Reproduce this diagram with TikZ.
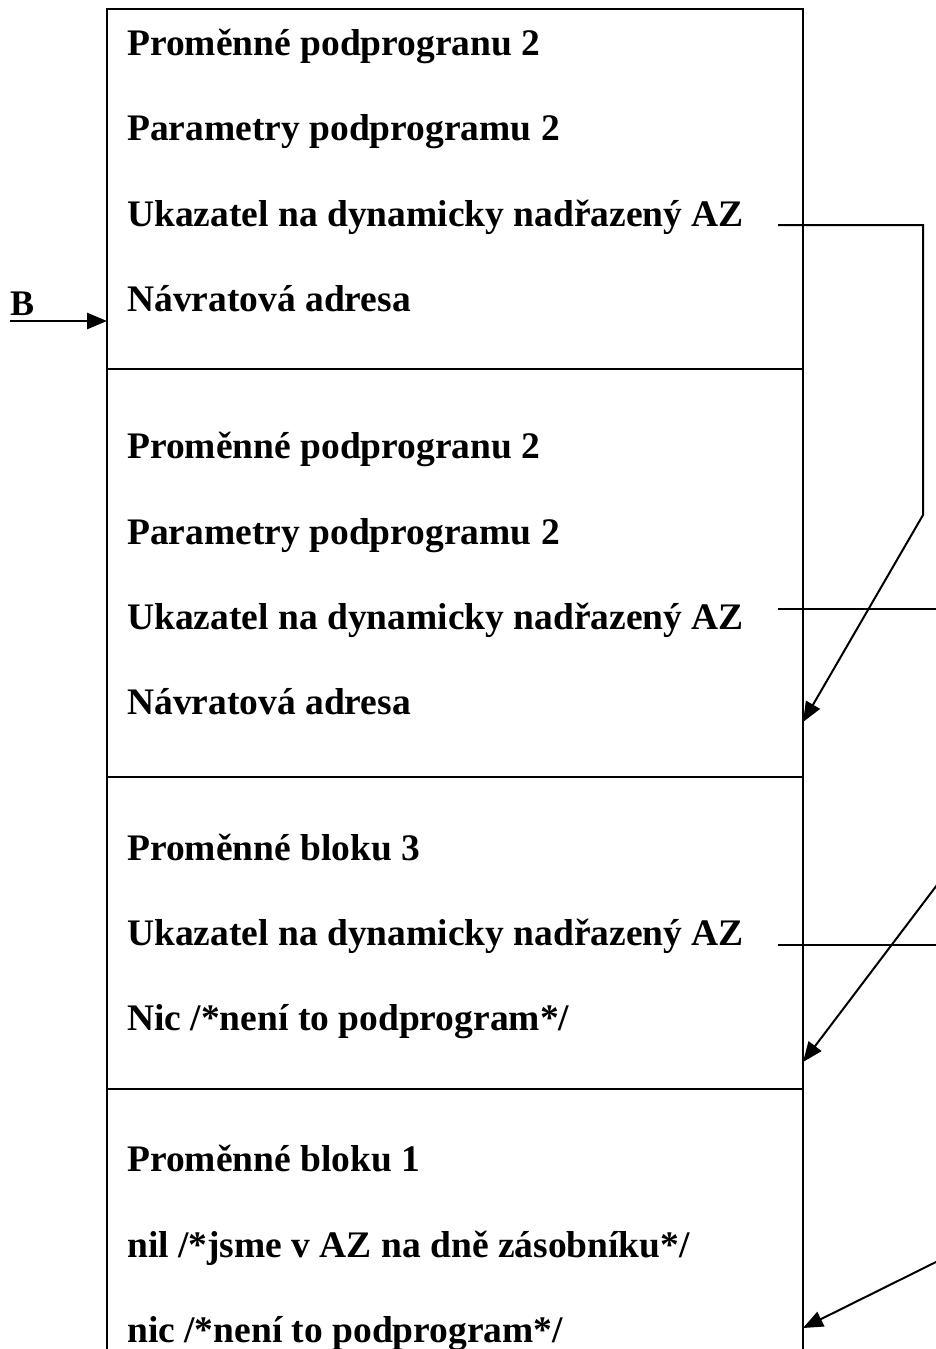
\documentclass[tikz,border=0pt]{standalone}
\usepackage{fontspec}
\setmainfont{Liberation Serif}
\usetikzlibrary{arrows.meta}
\tikzset{
  row/.style={anchor=base west, inner sep=0pt, font=\bfseries\fontsize{37.5}{42}\selectfont},
  frame/.style={line width=2.8pt},
  link/.style={line width=2pt},
  tip/.style={-{Triangle[length=20pt,width=16pt]}}
}
\begin{document}
\begin{tikzpicture}[x=1pt,y=-1pt]
\useasboundingbox (0,0) rectangle (936,1349);
\clip (0,0) rectangle (936,1349);
% frame
\draw[frame] (107,1360) -- (107,9) -- (803,9) -- (803,1360);
\draw[frame] (107,369) -- (803,369);
\draw[frame] (107,777) -- (803,777);
\draw[frame] (107,1089) -- (803,1089);
% section 1
\node[row] (s1a) at (127,55) {Proměnné podprogranu 2};
\node[row] (s1b) at (127,140) {Parametry podprogramu 2};
\node[row] (s1c) at (127,226) {Ukazatel na dynamicky nadřazený AZ};
\node[row] (s1d) at (127,311) {Návratová adresa};
% section 2
\node[row] (s2a) at (127,458) {Proměnné podprogranu 2};
\node[row] (s2b) at (127,544) {Parametry podprogramu 2};
\node[row] (s2c) at (127,629) {Ukazatel na dynamicky nadřazený AZ};
\node[row] (s2d) at (127,714) {Návratová adresa};
% section 3
\node[row] (s3a) at (127,860) {Proměnné bloku 3};
\node[row] (s3b) at (127,945) {Ukazatel na dynamicky nadřazený AZ};
\node[row] (s3c) at (127,1030) {Nic /*není to podprogram*/};
% section 4
\node[row] (s4a) at (127,1171) {Proměnné bloku 1};
\node[row] (s4b) at (127,1257) {nil /*jsme v AZ na dně zásobníku*/};
\node[row] (s4c) at (127,1342) {nic /*není to podprogram*/};
% B pointer
\node[anchor=base west, inner sep=0pt, font=\bfseries\fontsize{36}{40}\selectfont] (blabel) at (10,315) {B};
\coordinate (bstart) at (10,321);
\coordinate (bend) at (107,321);
\draw[frame,tip] (bstart) -- (bend);
% connectors
\coordinate (c1s) at (778,225);
\coordinate (c1a) at (923,225);
\coordinate (c1b) at (923,515);
\coordinate (c1e) at (803,722);
\draw[link,tip] (c1s) -- (c1a) -- (c1b) -- (c1e);
\coordinate (c2s) at (778,609);
\coordinate (c2e) at (940,609);
\draw[link] (c2s) -- (c2e);
\coordinate (c3s) at (778,945);
\coordinate (c3e) at (940,945);
\draw[link] (c3s) -- (c3e);
\coordinate (c4s) at (940,881);
\coordinate (c4e) at (803,1062);
\draw[link,tip] (c4s) -- (c4e);
\coordinate (c5s) at (940,1260);
\coordinate (c5e) at (803,1328);
\draw[link,tip] (c5s) -- (c5e);
\end{tikzpicture}
\end{document}
